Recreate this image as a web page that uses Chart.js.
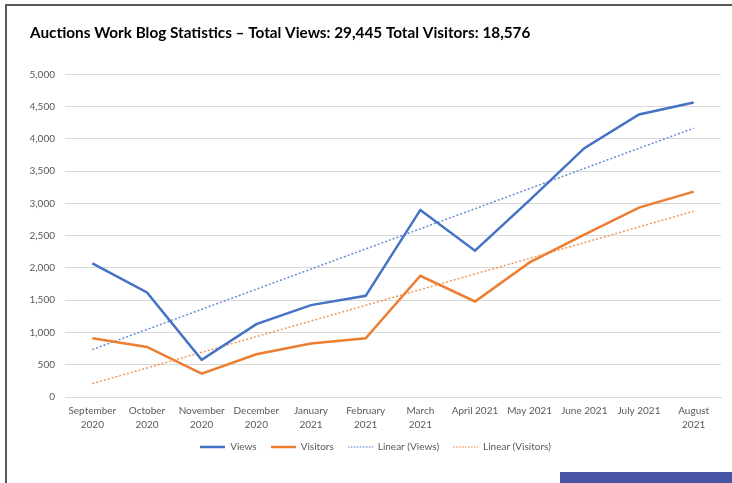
<!DOCTYPE html>
<html>
<head>
<meta charset="utf-8">
<title>Auctions Work Blog Statistics</title>
<script src="https://cdn.jsdelivr.net/npm/chart.js@4.4.1/dist/chart.umd.min.js"></script>
<style>
    html, body { margin: 0; padding: 0; background: #fff; }
    #wrap { position: relative; width: 732px; height: 483px; overflow: hidden; }
    #chart { position: absolute; left: 0; top: 0; }
    .frame-left { position: absolute; left: 5px; top: 4px; width: 2px; height: 479px; background: #595959; }
    .frame-top { position: absolute; left: 5px; top: 4px; width: 727px; height: 2px; background: #595959; }
    .corner-bar { position: absolute; left: 560px; top: 472px; width: 172px; height: 11px; background: #4654a3; }
</style>
</head>
<body>
<div id="wrap">
    <canvas id="chart" width="732" height="483"></canvas>
    <div class="frame-left"></div>
    <div class="frame-top"></div>
    <div class="corner-bar"></div>
</div>
<script>
// Months on the x axis (two-line labels as in the original)
const months = [
    ['September', '2020'], ['October', '2020'], ['November', '2020'], ['December', '2020'],
    ['January', '2021'], ['February', '2021'], ['March', '2021'], 'April 2021',
    'May 2021', 'June 2021', 'July 2021', ['August', '2021']
];

// Monthly values
const views = [2070, 1620, 575, 1130, 1424, 1568, 2899, 2267, 3050, 3856, 4379, 4565];
const visitors = [911, 776, 362, 663, 828, 911, 1879, 1480, 2086, 2515, 2935, 3183];

// Trend line end points (first and last month)
const linearViews = [735, null, null, null, null, null, null, null, null, null, null, 4166];
const linearVisitors = [207, null, null, null, null, null, null, null, null, null, null, 2878];

const yTicks = [0, 500, 1000, 1500, 2000, 2500, 3000, 3500, 4000, 4500, 5000];

const chartTitle = 'Auctions Work Blog Statistics \u2013 Total Views: 29,445 Total Visitors: 18,576';

const blue = '#4472c4';
const orange = '#ed7d31';
const textGrey = '#595959';
const gridGrey = '#d9d9d9';
const fontFamily = 'Lato, "Open Sans", sans-serif';

// small line swatch for the legend (solid or dotted)
function legendSwatch(color, width, dash) {
    const c = document.createElement('canvas');
    c.width = 25;
    c.height = 4;
    const g = c.getContext('2d');
    g.strokeStyle = color;
    g.lineWidth = width;
    g.setLineDash(dash);
    g.beginPath();
    g.moveTo(0, 2);
    g.lineTo(25, 2);
    g.stroke();
    return c;
}

const swatches = [
    legendSwatch(blue, 2.5, []),
    legendSwatch(orange, 2.5, []),
    legendSwatch(blue, 1.2, [1.5, 1.5]),
    legendSwatch(orange, 1.2, [1.5, 1.5])
];

new Chart(document.getElementById('chart'), {
    type: 'line',
    data: {
        labels: months,
        datasets: [
            {
                label: 'Views',
                data: views,
                borderColor: blue,
                backgroundColor: blue,
                borderWidth: 2.5,
                pointRadius: 0,
                tension: 0,
                order: 1
            },
            {
                label: 'Visitors',
                data: visitors,
                borderColor: orange,
                backgroundColor: orange,
                borderWidth: 2.5,
                pointRadius: 0,
                tension: 0,
                order: 2
            },
            {
                label: 'Linear (Views)',
                data: linearViews,
                borderColor: 'rgba(68, 114, 196, 0.8)',
                backgroundColor: blue,
                borderWidth: 1.5,
                borderDash: [2, 2],
                pointRadius: 0,
                spanGaps: true,
                order: 3
            },
            {
                label: 'Linear (Visitors)',
                data: linearVisitors,
                borderColor: 'rgba(237, 125, 49, 0.8)',
                backgroundColor: orange,
                borderWidth: 1.5,
                borderDash: [2, 2],
                pointRadius: 0,
                spanGaps: true,
                order: 4
            }
        ]
    },
    options: {
        responsive: false,
        animation: false,
        devicePixelRatio: 1,
        layout: {
            padding: { left: 30, right: 11, top: 0, bottom: 21 }
        },
        plugins: {
            title: {
                display: true,
                text: chartTitle,
                align: 'start',
                color: '#000',
                font: { family: fontFamily, size: 15.3, weight: 'bold' },
                padding: { top: 24, bottom: 32 }
            },
            legend: {
                position: 'bottom',
                labels: {
                    usePointStyle: true,
                    pointStyleWidth: 25,
                    boxWidth: 25,
                    boxHeight: 8,
                    padding: 14,
                    color: textGrey,
                    font: { family: fontFamily, size: 10 },
                    generateLabels: chart => {
                        const items = Chart.defaults.plugins.legend.labels.generateLabels(chart);
                        items.forEach(item => { item.pointStyle = swatches[item.datasetIndex]; });
                        return items;
                    }
                }
            },
            tooltip: { enabled: false }
        },
        scales: {
            x: {
                offset: true,
                afterFit: scale => {
                    scale.paddingLeft = 0;
                    scale.paddingRight = 0;
                    scale.height = scale.height - 11;
                },
                grid: { display: false, drawTicks: false },
                border: { display: true, color: gridGrey, width: 1 },
                ticks: {
                    color: textGrey,
                    font: { family: fontFamily, size: 10, lineHeight: 1.4 },
                    padding: 7,
                    maxRotation: 0,
                    autoSkip: false
                }
            },
            y: {
                min: 0,
                max: 5000,
                afterFit: scale => { scale.width = 35; },
                afterBuildTicks: scale => { scale.ticks = yTicks.map(v => ({ value: v })); },
                grid: { color: gridGrey, lineWidth: 1, drawTicks: false },
                border: { display: false },
                ticks: {
                    color: textGrey,
                    font: { family: fontFamily, size: 10 },
                    padding: 10,
                    callback: value => value.toLocaleString('en-US')
                }
            }
        }
    }
});
</script>
</body>
</html>
